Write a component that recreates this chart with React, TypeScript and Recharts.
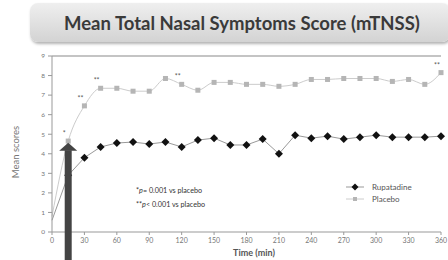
import { LineChart, Line, XAxis, YAxis, ReferenceLine, ReferenceDot, LabelList, Legend } from "recharts";

// time points (min)
const times = [0, 15, 30, 45, 60, 75, 90, 105, 120, 135, 150, 165, 180, 195, 210, 225, 240, 255, 270, 285, 300, 315, 330, 345, 360];
const rupatadine = [0.6, 2.9, 3.8, 4.35, 4.55, 4.6, 4.5, 4.6, 4.35, 4.7, 4.8, 4.45, 4.45, 4.75, 4.0, 4.95, 4.8, 4.9, 4.75, 4.85, 4.95, 4.85, 4.85, 4.85, 4.9];
const placebo = [0.8, 4.65, 6.45, 7.35, 7.35, 7.2, 7.2, 7.85, 7.55, 7.25, 7.65, 7.65, 7.55, 7.55, 7.45, 7.55, 7.8, 7.8, 7.85, 7.85, 7.85, 7.7, 7.8, 7.55, 8.15];
const significance = ["", "*", "**", "**", "", "", "", "", "**", "", "", "", "", "", "", "", "", "", "", "", "", "", "", "", "**"];
const xTicks = [0, 30, 60, 90, 120, 150, 180, 210, 240, 270, 300, 330, 360];
const yTicks = [0, 1, 2, 3, 4, 5, 6, 7, 8, 9];
const arrowTime = 15;

const data = times.map((t, i) => ({
  t,
  rupatadine: rupatadine[i],
  placebo: placebo[i],
  sig: significance[i],
}));

const FONT = "Lato, 'Open Sans', sans-serif";

// baseline (t = 0) has no marker in the original
function Diamond(props: any) {
  const { cx, cy, index } = props;
  if (cx == null || cy == null || index === 0) return null;
  return <path d={`M${cx},${cy - 4} L${cx + 4},${cy} L${cx},${cy + 4} L${cx - 4},${cy} Z`} fill="#111" />;
}

function Square(props: any) {
  const { cx, cy, index } = props;
  if (cx == null || cy == null || index === 0) return null;
  return <rect x={cx - 2.5} y={cy - 2.5} width={5} height={5} fill="#b5b5b5" />;
}

function SigLabel(props: any) {
  const { x, y, value } = props;
  if (!value) return null;
  return (
    <text x={x - 4} y={y - 5} textAnchor="middle" fontSize={7} fill="#555" fontFamily={FONT}>
      {value}
    </text>
  );
}

function ArrowHead(props: any) {
  const { cx, cy } = props;
  if (cx == null || cy == null) return null;
  return <path d={`M${cx - 9},${cy} L${cx},${cy - 8} L${cx + 9},${cy} Z`} fill="#444" />;
}

function LegendContent() {
  const items = [
    { name: "Rupatadine", color: "#999", marker: "diamond" },
    { name: "Placebo", color: "#ccc", marker: "square" },
  ];
  return (
    <div style={{ fontFamily: FONT, fontSize: 8, color: "#555" }}>
      {items.map((it) => (
        <div key={it.name} style={{ display: "flex", alignItems: "center", height: 12 }}>
          <svg width={20} height={10}>
            <line x1={1} x2={19} y1={5} y2={5} stroke={it.color} strokeWidth={1} />
            {it.marker === "diamond" ? (
              <path d="M10,1.5 L13.5,5 L10,8.5 L6.5,5 Z" fill="#111" />
            ) : (
              <rect x={8} y={3} width={4} height={4} fill="#b5b5b5" />
            )}
          </svg>
          <span style={{ marginLeft: 7 }}>{it.name}</span>
        </div>
      ))}
    </div>
  );
}

export default function App() {
  return (
    <div style={{ position: "absolute", left: 0, top: 0, width: 448, height: 260, background: "#fff", overflow: "hidden", fontFamily: FONT }}>
      <div
        style={{
          position: "absolute",
          left: 30,
          top: 3,
          width: 420,
          height: 39,
          borderRadius: 8,
          background: "linear-gradient(#efefef, #d3d3d3)",
          boxShadow: "1px 2px 3px rgba(0,0,0,0.3)",
          display: "flex",
          alignItems: "center",
          justifyContent: "center",
          fontWeight: 700,
          fontSize: 18.5,
          color: "#3a3a3a",
          whiteSpace: "nowrap",
        }}
      >
        <span style={{ marginLeft: 4 }}>Mean Total Nasal Symptoms Score (mTNSS)</span>
      </div>
      <div
        style={{
          position: "absolute",
          left: 15,
          top: 152,
          transform: "translate(-50%, -50%) rotate(-90deg)",
          fontSize: 9.5,
          color: "#777",
          whiteSpace: "nowrap",
        }}
      >
        Mean scores
      </div>
      <div style={{ position: "absolute", left: 136, top: 184, fontSize: 7.2, color: "#333", lineHeight: "14px", whiteSpace: "nowrap" }}>
        <div>
          *<i>p</i>= 0.001 vs placebo
        </div>
        <div>
          **<i>p</i>&lt; 0.001 vs placebo
        </div>
      </div>
      <div style={{ position: "absolute", left: 254, top: 252, transform: "translate(-50%, -50%)", fontSize: 9, fontWeight: 700, color: "#555", whiteSpace: "nowrap" }}>
        Time (min)
      </div>
      <div style={{ position: "absolute", left: 0, top: 0 }}>
        <LineChart width={448} height={260} data={data} margin={{ top: 56, right: 7, bottom: 8, left: 22 }}>
          <XAxis
            dataKey="t"
            type="number"
            domain={[0, 360]}
            ticks={xTicks}
            interval={0}
            height={20}
            tickSize={3}
            tickMargin={3}
            axisLine={{ stroke: "#999" }}
            tickLine={{ stroke: "#999" }}
            tick={{ fontSize: 7, fill: "#777", fontFamily: FONT }}
          />
          <YAxis
            domain={[0, 9]}
            ticks={yTicks}
            interval={0}
            width={30}
            tickSize={4}
            tickMargin={3}
            axisLine={{ stroke: "#999" }}
            tickLine={{ stroke: "#999" }}
            tick={{ fontSize: 6.5, fill: "#777", fontFamily: FONT }}
          />
          <ReferenceLine y={9} stroke="#b0b0b0" strokeWidth={1.5} />
          <Line
            dataKey="placebo"
            name="Placebo"
            stroke="#cccccc"
            strokeWidth={1}
            type="monotone"
            dot={<Square />}
            activeDot={false}
            isAnimationActive={false}
          >
            <LabelList dataKey="sig" content={<SigLabel />} />
          </Line>
          <Line
            dataKey="rupatadine"
            name="Rupatadine"
            stroke="#999999"
            strokeWidth={1}
            type="linear"
            dot={<Diamond />}
            activeDot={false}
            isAnimationActive={false}
          />
          <ReferenceLine
            segment={[
              { x: arrowTime, y: -1.6 },
              { x: arrowTime, y: 4.18 },
            ]}
            stroke="#444"
            strokeWidth={7}
            ifOverflow="visible"
            zIndex={1500}
          />
          <ReferenceDot x={arrowTime} y={4.15} ifOverflow="visible" shape={<ArrowHead />} zIndex={1500} />
          <Legend
            layout="vertical"
            verticalAlign="middle"
            align="center"
            content={<LegendContent />}
            wrapperStyle={{ left: 345, top: 181, width: 100 }}
          />
        </LineChart>
      </div>
    </div>
  );
}
